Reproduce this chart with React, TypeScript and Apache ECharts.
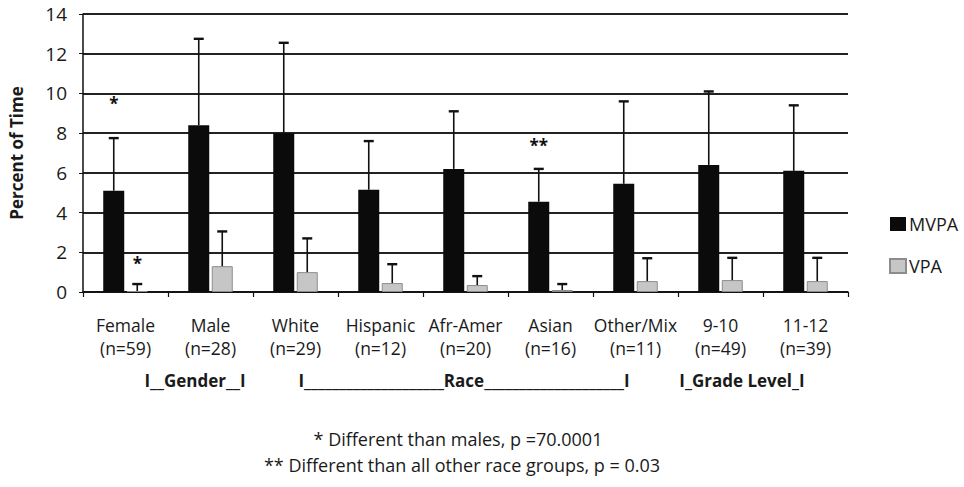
import React, { useEffect, useRef } from "react";
import * as echarts from "echarts";

const categories = ["Female", "Male", "White", "Hispanic", "Afr-Amer", "Asian", "Other/Mix", "9-10", "11-12"];
const sampleSizes = ["(n=59)", "(n=28)", "(n=29)", "(n=12)", "(n=20)", "(n=16)", "(n=11)", "(n=49)", "(n=39)"];
const mvpa = [5.1, 8.4, 8.0, 5.15, 6.2, 4.55, 5.45, 6.4, 6.1];
const mvpaUpper = [7.75, 12.75, 12.55, 7.6, 9.1, 6.2, 9.6, 10.1, 9.4];
const vpa = [0.05, 1.3, 1.0, 0.45, 0.35, 0.1, 0.55, 0.6, 0.55];
const vpaUpper = [0.4, 3.05, 2.7, 1.4, 0.8, 0.4, 1.7, 1.72, 1.72];
const yTicks = { min: 0, max: 14, interval: 2 };
// significance marks: [category index, series (0 = MVPA, 1 = VPA), value height, text]
const sigMarks: [number, number, number, string][] = [
  [0, 0, 9.5, "*"],
  [0, 1, 1.45, "*"],
  [5, 0, 7.4, "**"],
];
const groupLabels = [
  "I__Gender__I",
  "I____________________Race____________________I",
  "I_Grade Level_I",
];
const footnotes = [
  "* Different than males, p =70.0001",
  "** Different than all other race groups, p = 0.03",
];

const FONT = "'Open Sans', 'Liberation Sans', sans-serif";
const BAR_W = 21;
const OFFSET = 11.75;

export default function App() {
  const ref = useRef<HTMLDivElement>(null);
  useEffect(() => {
    if (!ref.current) return;
    const chart = echarts.init(ref.current, null, { renderer: "svg" });

    const errorSeries = (vals: number[], upper: number[], off: number) => ({
      type: "custom",
      silent: true,
      z: 5,
      encode: { x: 0, y: [1, 2] },
      data: vals.map((v, i) => [i, v, upper[i]]),
      renderItem: (params: any, api: any) => {
        const idx = api.value(0);
        const base = api.coord([idx, api.value(1)]);
        const top = api.coord([idx, api.value(2)]);
        const x = base[0] + off;
        return {
          type: "group",
          children: [
            { type: "line", shape: { x1: x, y1: base[1], x2: x, y2: top[1] }, style: { stroke: "#111", lineWidth: 1.6 } },
            { type: "line", shape: { x1: x - 5, y1: top[1], x2: x + 5, y2: top[1] }, style: { stroke: "#111", lineWidth: 2.4 } },
          ],
        };
      },
    });

    const gText = (x: number, y: number, text: string, size: number, bold: boolean) => ({
      type: "text",
      x,
      y,
      style: {
        text,
        fontSize: size,
        fontWeight: bold ? "bold" : "normal",
        fill: "#1a1a1a",
        align: "center",
        verticalAlign: "middle",
        fontFamily: FONT,
      },
    });

    chart.setOption({
      animation: false,
      backgroundColor: "#fff",
      textStyle: { fontFamily: FONT },
      grid: { left: 80, right: 116, top: 14, bottom: 195 },
      legend: {
        orient: "vertical",
        left: 884,
        top: 210,
        itemWidth: 16,
        itemHeight: 14,
        itemGap: 24,
        icon: "rect",
        data: ["MVPA", "VPA"],
        textStyle: { fontSize: 18, color: "#1a1a1a", fontFamily: FONT, padding: [0, 0, 0, -2] },
      },
      xAxis: {
        type: "category",
        data: categories,
        axisLine: { lineStyle: { color: "#111", width: 1.5 } },
        axisTick: { show: true, length: 5, lineStyle: { color: "#111", width: 1.2 } },
        axisLabel: {
          interval: 0,
          margin: 21,
          lineHeight: 23,
          fontSize: 17.5,
          color: "#1a1a1a",
          fontFamily: FONT,
          formatter: (v: string) => {
            const i = categories.indexOf(v);
            return v + "\n" + sampleSizes[i];
          },
        },
      },
      yAxis: {
        type: "value",
        min: yTicks.min,
        max: yTicks.max,
        interval: yTicks.interval,
        name: "Percent of Time",
        nameLocation: "middle",
        nameGap: 58,
        nameTextStyle: { fontSize: 17, fontWeight: "bold", color: "#1a1a1a", fontFamily: FONT },
        axisLine: { show: true, lineStyle: { color: "#111", width: 1.5 } },
        axisTick: { show: true, length: 4, lineStyle: { color: "#111" } },
        axisLabel: { fontSize: 19, color: "#1a1a1a", margin: 16, fontFamily: FONT },
        splitLine: { lineStyle: { color: "#222", width: 1.8 } },
      },
      series: [
        {
          name: "MVPA",
          type: "bar",
          data: mvpa,
          barWidth: BAR_W,
          barGap: "12%",
          itemStyle: { color: "#0b0b0b" },
        },
        {
          name: "VPA",
          type: "bar",
          data: vpa,
          barWidth: BAR_W,
          barGap: "12%",
          itemStyle: { color: "#c6c6c6", borderColor: "#8c8c8c", borderWidth: 1 },
        },
        errorSeries(mvpa, mvpaUpper, -OFFSET),
        errorSeries(vpa, vpaUpper, OFFSET),
        {
          type: "custom",
          silent: true,
          z: 6,
          encode: { x: 0, y: 2 },
          data: sigMarks.map((m) => [m[0], m[1], m[2], m[3]]),
          renderItem: (params: any, api: any) => {
            const p = api.coord([api.value(0), api.value(2)]);
            const off = api.value(1) === 0 ? -OFFSET : OFFSET;
            const m = sigMarks[params.dataIndex];
            return {
              type: "text",
              x: p[0] + off,
              y: p[1],
              style: {
                text: m[3],
                fontSize: 17,
                fontWeight: "bold",
                fill: "#111",
                align: "center",
                verticalAlign: "middle",
                fontFamily: FONT,
              },
            };
          },
        },
      ],
      graphic: [
        gText(195, 380, groupLabels[0], 17, true),
        gText(464, 380, groupLabels[1], 17, true),
        gText(742, 380, groupLabels[2], 17, true),
        gText(458, 439, footnotes[0], 18, false),
        gText(462, 465, footnotes[1], 18, false),
      ],
    });
    return () => chart.dispose();
  }, []);
  return <div ref={ref} style={{ width: 964, height: 487, position: "absolute", left: 0, top: 0 }} />;
}
